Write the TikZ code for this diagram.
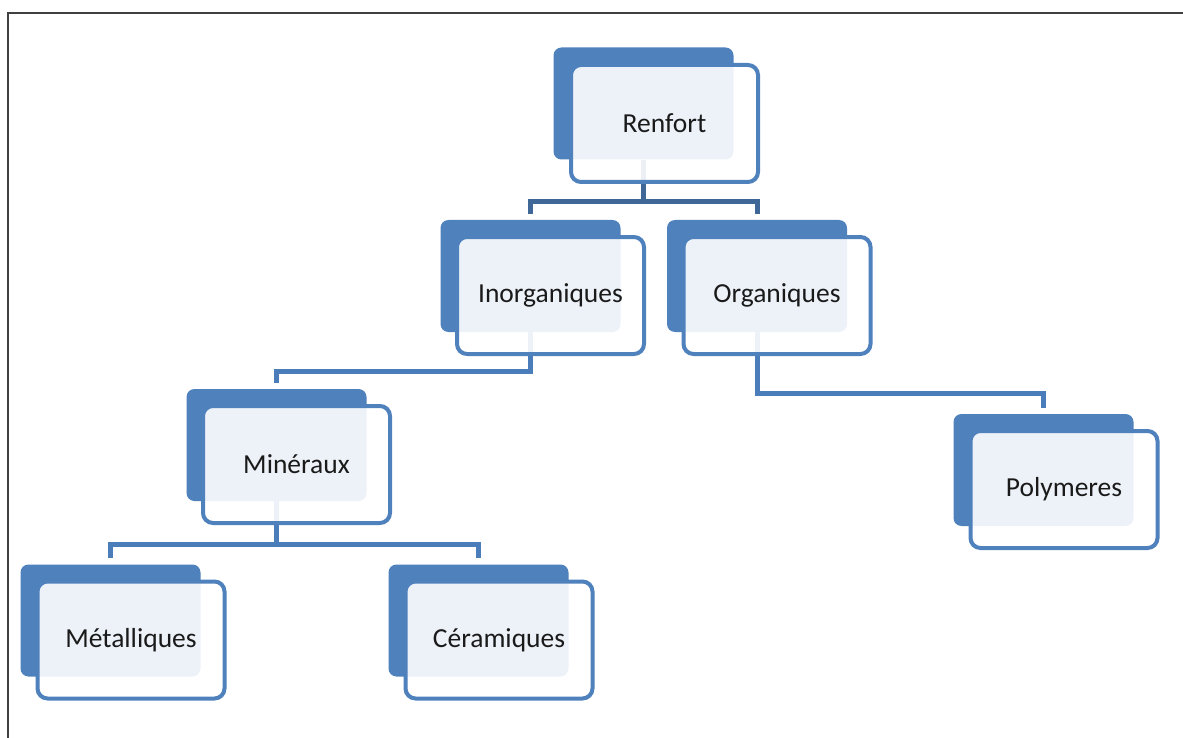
\documentclass[tikz,border=0pt]{standalone}
\usepackage{fontspec}
\setmainfont{Carlito}
\definecolor{backblue}{HTML}{4F81BD}
\definecolor{lineblue}{HTML}{4A7DBA}
\definecolor{topline}{HTML}{3F6797}
\definecolor{framegray}{HTML}{404040}
\definecolor{txt}{HTML}{1A1A1A}
\tikzset{
  backbox/.style={fill=backblue, draw=none, rounded corners=8pt, minimum width=180pt, minimum height=112pt, inner sep=0pt},
  frontbox/.style={fill=white, fill opacity=0.9, text opacity=1, draw=backblue, line width=4pt, rounded corners=10pt, minimum width=187pt, minimum height=117pt, inner sep=0pt, text=txt, font=\fontsize{27.5}{33}\selectfont},
  conn/.style={draw=lineblue, line width=5pt},
  topconn/.style={draw=topline, line width=5pt},
}
\begin{document}
\begin{tikzpicture}[x=1pt,y=-1pt]
\useasboundingbox (0,0) rectangle (1183,738);
\clip (0,0) rectangle (1183,738);
\fill[white] (0,0) rectangle (1183,738);
\draw[framegray, line width=2.5pt] (1200,13) -- (8,13) -- (8,760);
% back boxes
\node[backbox] (ren-b) at (643.5,103.5) {};
\node[backbox] (ino-b) at (530.5,276) {};
\node[backbox] (org-b) at (757,276) {};
\node[backbox] (min-b) at (276.5,445) {};
\node[backbox] (pol-b) at (1043.5,470) {};
\node[backbox] (met-b) at (110.5,620.5) {};
\node[backbox] (cer-b) at (478.5,620.5) {};
% connectors
\draw[topconn] (ren-b.south) -- ++(0,41.5) coordinate (j1) -| ([yshift=6pt]ino-b.north);
\draw[topconn] (j1) -| ([yshift=6pt]org-b.north);
\draw[conn] (ino-b.south) -- ++(0,39) -| ([yshift=6pt]min-b.north);
\draw[conn] (org-b.south) -- ++(0,61.5) -| ([yshift=6pt]pol-b.north);
\draw[conn] (min-b.south) -- ++(0,43) coordinate (j2) -| ([yshift=6pt]met-b.north);
\draw[conn] (j2) -| ([yshift=6pt]cer-b.north);
% front boxes
\node[frontbox] (ren) at (664.5,123.5) {Renfort};
\node[frontbox] (ino) at (550.5,295.5) {Inorganiques};
\node[frontbox] (org) at (777,295.5) {Organiques};
\node[frontbox] (min) at (296.5,464.5) {Minéraux};
\node[frontbox] (pol) at (1064,489.5) {Polymeres};
\node[frontbox] (met) at (131,640) {Métalliques};
\node[frontbox] (cer) at (499,640) {Céramiques};
\end{tikzpicture}
\end{document}
